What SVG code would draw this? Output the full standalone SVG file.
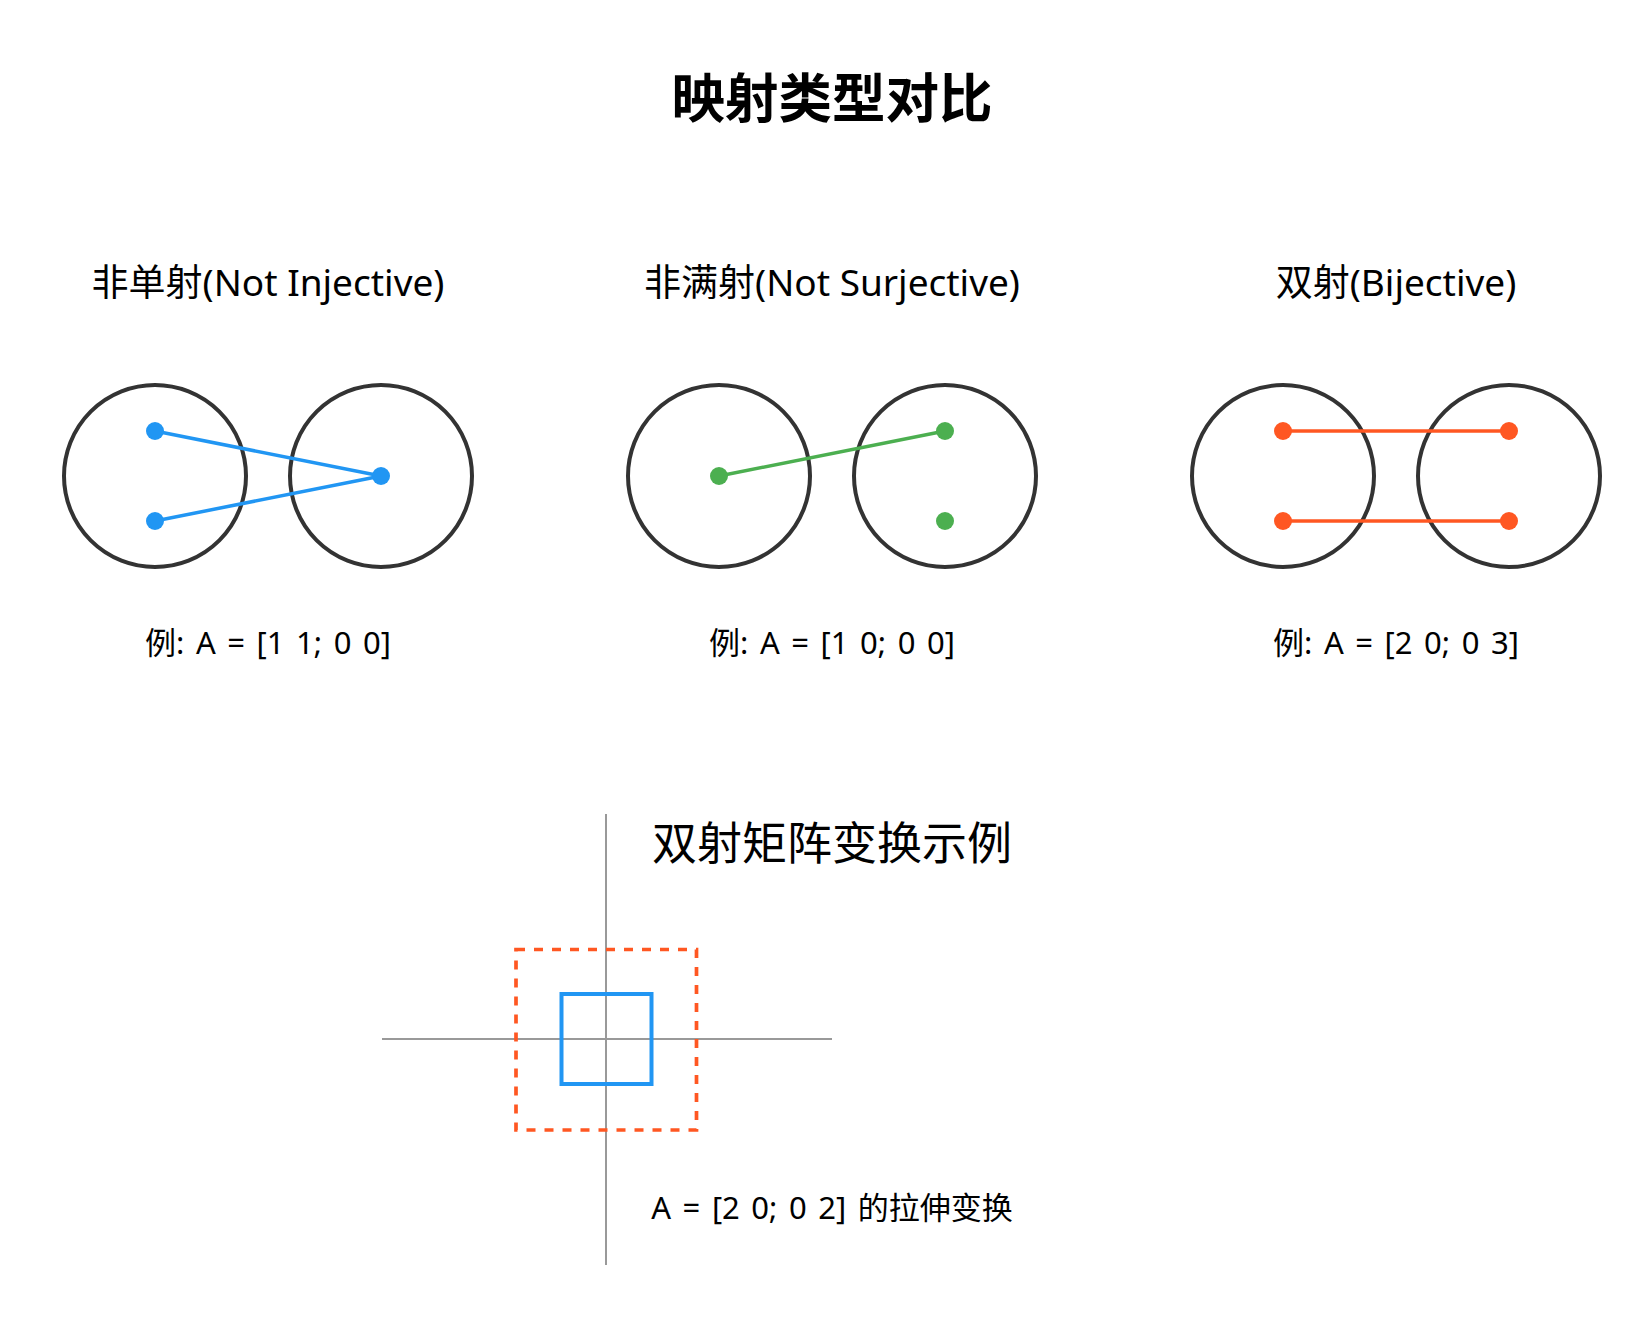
<svg xmlns="http://www.w3.org/2000/svg" width="1636" height="1322" viewBox="0 0 1636 1322">
  <style>
    .t { font-family: "Noto Sans", "Noto Sans CJK SC", sans-serif; fill: #000; text-anchor: middle; }
    .title { font-size: 53.5px; font-weight: bold; }
    .sub { font-size: 37px; }
    .ex { font-size: 31px; word-spacing: 3.5px; }
    .btitle { font-size: 45px; }
    .set { fill: none; stroke: #333; stroke-width: 4; }
    .blue { stroke: #2196F3; stroke-width: 3.5; }
    .green { stroke: #4CAF50; stroke-width: 3.5; }
    .orange { stroke: #FF5722; stroke-width: 3.5; }
    .axis { stroke: #999; stroke-width: 2; }
  </style>
  <rect width="1636" height="1322" fill="#fff"/>

  <text class="t title" x="832" y="118">映射类型对比</text>

  <!-- Not injective -->
  <g id="not-injective">
    <text class="t sub" x="268" y="296">非单射(Not Injective)</text>
    <circle id="ni-domain" class="set" cx="155" cy="476" r="91"/>
    <circle id="ni-codomain" class="set" cx="381" cy="476" r="91"/>
    <text class="t ex" x="268" y="654">例: A = [1 1; 0 0]</text>
  </g>

  <!-- Not surjective -->
  <g id="not-surjective">
    <text class="t sub" x="832" y="296">非满射(Not Surjective)</text>
    <circle id="ns-domain" class="set" cx="719" cy="476" r="91"/>
    <circle id="ns-codomain" class="set" cx="945" cy="476" r="91"/>
    <text class="t ex" x="832" y="654">例: A = [1 0; 0 0]</text>
  </g>

  <!-- Bijective -->
  <g id="bijective">
    <text class="t sub" x="1396" y="296">双射(Bijective)</text>
    <circle id="bi-domain" class="set" cx="1283" cy="476" r="91"/>
    <circle id="bi-codomain" class="set" cx="1509" cy="476" r="91"/>
    <text class="t ex" x="1396" y="654">例: A = [2 0; 0 3]</text>
  </g>

  <g id="connectors">
    <line class="blue" x1="155" y1="431" x2="381" y2="476"/>
    <line class="blue" x1="155" y1="521" x2="381" y2="476"/>
    <line class="green" x1="719" y1="476" x2="945" y2="431"/>
    <line class="orange" x1="1283" y1="431" x2="1509" y2="431"/>
    <line class="orange" x1="1283" y1="521" x2="1509" y2="521"/>
  </g>

  <g id="points">
    <circle cx="155" cy="431" r="9" fill="#2196F3"/>
    <circle cx="155" cy="521" r="9" fill="#2196F3"/>
    <circle cx="381" cy="476" r="9" fill="#2196F3"/>
    <circle cx="719" cy="476" r="9" fill="#4CAF50"/>
    <circle cx="945" cy="431" r="9" fill="#4CAF50"/>
    <circle cx="945" cy="521" r="9" fill="#4CAF50"/>
    <circle cx="1283" cy="431" r="9" fill="#FF5722"/>
    <circle cx="1283" cy="521" r="9" fill="#FF5722"/>
    <circle cx="1509" cy="431" r="9" fill="#FF5722"/>
    <circle cx="1509" cy="521" r="9" fill="#FF5722"/>
  </g>

  <!-- Bijective transform example -->
  <g id="transform-example">
    <line class="axis" x1="382" y1="1039" x2="832" y2="1039"/>
    <line class="axis" x1="606" y1="814" x2="606" y2="1265"/>
    <rect x="561.5" y="994" width="90" height="90" fill="none" stroke="#2196F3" stroke-width="4"/>
    <rect x="516" y="949.5" width="180.5" height="180.5" fill="none" stroke="#FF5722" stroke-width="3.7" stroke-dasharray="9,9"/>
    <text class="t btitle" x="832" y="860">双射矩阵变换示例</text>
    <text class="t ex" x="832" y="1219">A = [2 0; 0 2] 的拉伸变换</text>
  </g>
</svg>
